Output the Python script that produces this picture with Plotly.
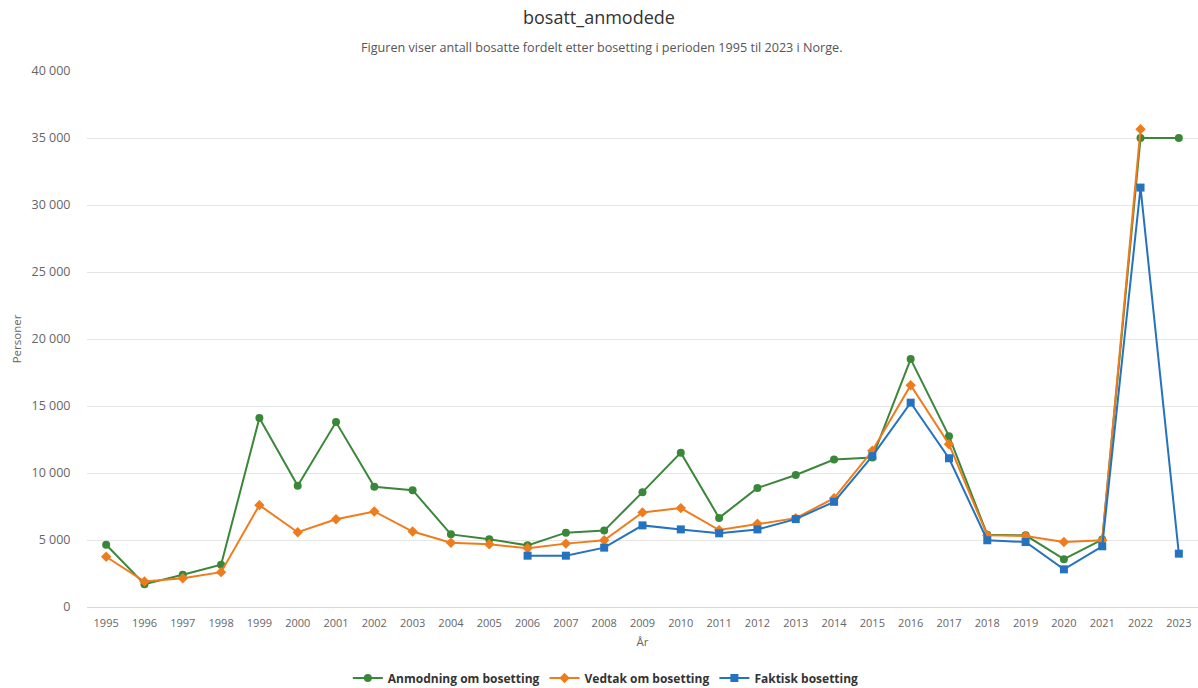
import plotly.graph_objects as go

years = [str(y) for y in range(1995, 2024)]

anmodning = [4650, 1700, 2400, 3150, 14100, 9050, 13800, 8970, 8720, 5420, 5050,
             4600, 5550, 5700, 8570, 11520, 6650, 8880, 9850, 11000, 11150,
             18500, 12750, 5400, 5350, 3570, 5030, 35000, 35000]

vedtak = [3750, 1900, 2150, 2600, 7600, 5580, 6550, 7130, 5630, 4800, 4680,
          4380, 4730, 4980, 7060, 7380, 5740, 6210, 6630, 8120, 11660,
          16550, 12150, 5350, 5300, 4850, 4980, 35650, None]

faktisk = [None] * 11 + [3830, 3830, 4430, 6090, 5790, 5500, 5790, 6560, 7850, 11260,
                         15250, 11100, 4980, 4850, 2810, 4530, 31300, 3980]

series = [
    ("Anmodning om bosetting", anmodning, "#3b873a", "circle", 8),
    ("Vedtak om bosetting", vedtak, "#ef7c1c", "diamond", 8),
    ("Faktisk bosetting", faktisk, "#2572c0", "square", 8),
]

FONT = "Open Sans, DejaVu Sans, sans-serif"

fig = go.Figure()
for name, values, color, symbol, size in series:
    fig.add_trace(go.Scatter(
        x=years, y=values, name=name, mode="lines+markers",
        line=dict(color=color, width=2),
        marker=dict(symbol=symbol, size=size, color=color),
        connectgaps=False,
    ))

fig.update_layout(
    width=1198, height=688,
    margin=dict(l=87, r=0, t=71, b=81, autoexpand=False),
    paper_bgcolor="white", plot_bgcolor="white",
    font=dict(family=FONT, color="#666666", size=11),
    separators=", ",
    title=dict(text="bosatt_anmodede", x=0.5, xanchor="center", y=0.975, yanchor="middle",
               font=dict(size=18, color="#333333")),
    annotations=[dict(text="Figuren viser antall bosatte fordelt etter bosetting i perioden 1995 til 2023 i Norge.",
                      xref="paper", yref="paper", x=0.4635, y=1.0, yshift=24, showarrow=False,
                      xanchor="center", yanchor="middle",
                      font=dict(size=12.6, color="#555555"))],
    showlegend=True,
    legend=dict(orientation="h", x=0.467, xanchor="center",
                yref="container", y=0.0145, yanchor="middle",
                font=dict(size=12, color="#333333", family=FONT, weight="bold"),
                itemwidth=30, tracegroupgap=0),
)

fig.update_xaxes(
    type="category", range=[-0.5, 28.5],
    showgrid=False, showline=True, linecolor="#d8d8d8", linewidth=1,
    ticks="outside", ticklen=6, tickcolor="rgba(0,0,0,0)",
    tickfont=dict(size=11, color="#666666"),
    title=dict(text="År", font=dict(size=11.5, color="#666666"), standoff=8),
)
fig.update_yaxes(
    range=[0, 40000], dtick=5000, tickformat=",d",
    showgrid=True, gridcolor="#e6e6e6", gridwidth=1,
    zeroline=False, showline=False, ticks="outside", ticklen=13, tickcolor="rgba(0,0,0,0)",
    tickfont=dict(size=12.5, color="#666666"),
    title=dict(text="Personer", font=dict(size=11.5, color="#666666"), standoff=7),
)

fig.write_html("out.html")
